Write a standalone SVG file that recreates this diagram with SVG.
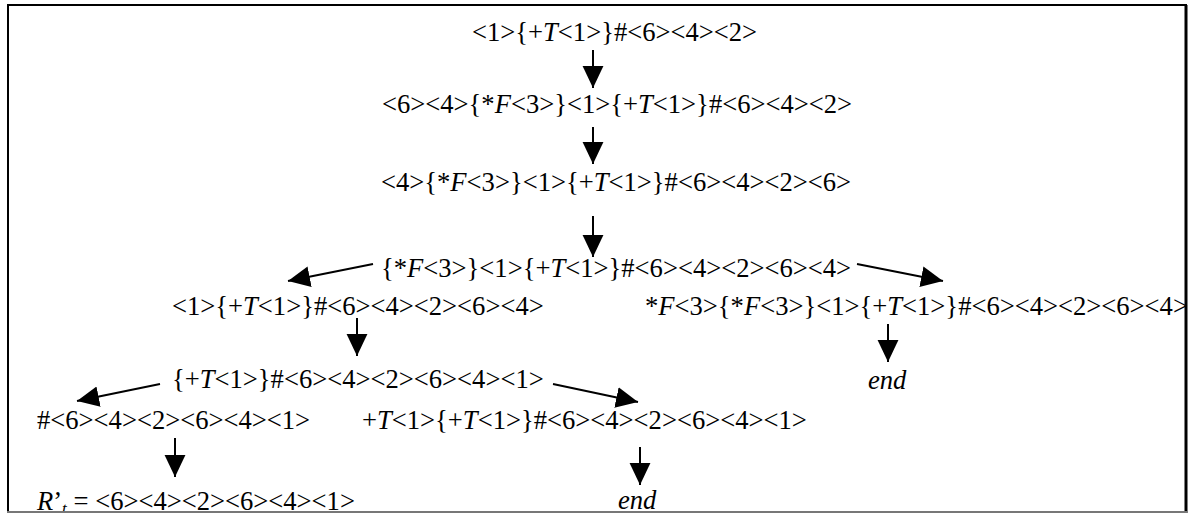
<svg xmlns="http://www.w3.org/2000/svg" width="1190" height="513" viewBox="0 0 1190 513">
<style>
text{font-family:"Liberation Serif","Times New Roman",serif;font-size:26.6px;fill:#000}
.i{font-style:italic}
.c{stroke:#000;stroke-width:2;fill:none}
</style>
<defs>
<marker id="ah" markerUnits="userSpaceOnUse" markerWidth="22" markerHeight="22" viewBox="0 0 19 18" refX="19" refY="9" orient="auto">
<path d="M0,0 L19,9 L0,18 Z" fill="#000"/>
</marker>
</defs>
<rect width="1190" height="513" fill="#fff"/>
<g id="connectors">
<line class="c" x1="593" y1="50" x2="593" y2="88" marker-end="url(#ah)"/>
<line class="c" x1="593" y1="127" x2="593" y2="164" marker-end="url(#ah)"/>
<line class="c" x1="593" y1="216" x2="593" y2="257" marker-end="url(#ah)"/>
<line class="c" x1="373" y1="264" x2="288" y2="281" marker-end="url(#ah)"/>
<line class="c" x1="857" y1="264" x2="943" y2="281" marker-end="url(#ah)"/>
<line class="c" x1="357" y1="318" x2="357" y2="356" marker-end="url(#ah)"/>
<line class="c" x1="888" y1="324" x2="888" y2="362" marker-end="url(#ah)"/>
<line class="c" x1="160" y1="384" x2="77" y2="401" marker-end="url(#ah)"/>
<line class="c" x1="553" y1="384" x2="638" y2="402" marker-end="url(#ah)"/>
<line class="c" x1="175" y1="438" x2="175" y2="477" marker-end="url(#ah)"/>
<line class="c" x1="640" y1="447" x2="640" y2="485" marker-end="url(#ah)"/>
</g>
<g id="n1"><text x="472" y="41">&lt;1&gt;{+<tspan class="i">T</tspan>&lt;1&gt;}#&lt;6&gt;&lt;4&gt;&lt;2&gt;</text></g>
<g id="n2"><text x="382" y="113">&lt;6&gt;&lt;4&gt;{*<tspan class="i">F</tspan>&lt;3&gt;}&lt;1&gt;{+<tspan class="i">T</tspan>&lt;1&gt;}#&lt;6&gt;&lt;4&gt;&lt;2&gt;</text></g>
<g id="n3"><text x="381" y="191">&lt;4&gt;{*<tspan class="i">F</tspan>&lt;3&gt;}&lt;1&gt;{+<tspan class="i">T</tspan>&lt;1&gt;}#&lt;6&gt;&lt;4&gt;&lt;2&gt;&lt;6&gt;</text></g>
<g id="n4"><text x="381" y="277">{*<tspan class="i">F</tspan>&lt;3&gt;}&lt;1&gt;{+<tspan class="i">T</tspan>&lt;1&gt;}#&lt;6&gt;&lt;4&gt;&lt;2&gt;&lt;6&gt;&lt;4&gt;</text></g>
<g id="n5"><text x="172" y="315">&lt;1&gt;{+<tspan class="i">T</tspan>&lt;1&gt;}#&lt;6&gt;&lt;4&gt;&lt;2&gt;&lt;6&gt;&lt;4&gt;</text></g>
<g id="n6"><text x="645" y="315">*<tspan class="i">F</tspan>&lt;3&gt;{*<tspan class="i">F</tspan>&lt;3&gt;}&lt;1&gt;{+<tspan class="i">T</tspan>&lt;1&gt;}#&lt;6&gt;&lt;4&gt;&lt;2&gt;&lt;6&gt;&lt;4&gt;</text></g>
<g id="n7"><text class="i" x="868" y="389">end</text></g>
<g id="n8"><text x="172" y="388">{+<tspan class="i">T</tspan>&lt;1&gt;}#&lt;6&gt;&lt;4&gt;&lt;2&gt;&lt;6&gt;&lt;4&gt;&lt;1&gt;</text></g>
<g id="n9"><text x="37" y="429">#&lt;6&gt;&lt;4&gt;&lt;2&gt;&lt;6&gt;&lt;4&gt;&lt;1&gt;</text></g>
<g id="n10"><text x="362" y="429">+<tspan class="i">T</tspan>&lt;1&gt;{+<tspan class="i">T</tspan>&lt;1&gt;}#&lt;6&gt;&lt;4&gt;&lt;2&gt;&lt;6&gt;&lt;4&gt;&lt;1&gt;</text></g>
<g id="n11"><text x="37" y="510"><tspan class="i">R</tspan>’<tspan class="i" font-size="17" dy="4">t</tspan><tspan dy="-4"> = &lt;6&gt;&lt;4&gt;&lt;2&gt;&lt;6&gt;&lt;4&gt;&lt;1&gt;</tspan></text></g>
<g id="n12"><text class="i" x="618" y="509">end</text></g>
<g id="frame">
<line x1="7" y1="5" x2="1187" y2="5" stroke="#000" stroke-width="2"/>
<line x1="8" y1="5" x2="8" y2="513" stroke="#000" stroke-width="2"/>
<line x1="1186" y1="5" x2="1186" y2="513" stroke="#000" stroke-width="3"/>
<line x1="7" y1="512" x2="1187" y2="512" stroke="#777" stroke-width="2"/>
</g>
</svg>
